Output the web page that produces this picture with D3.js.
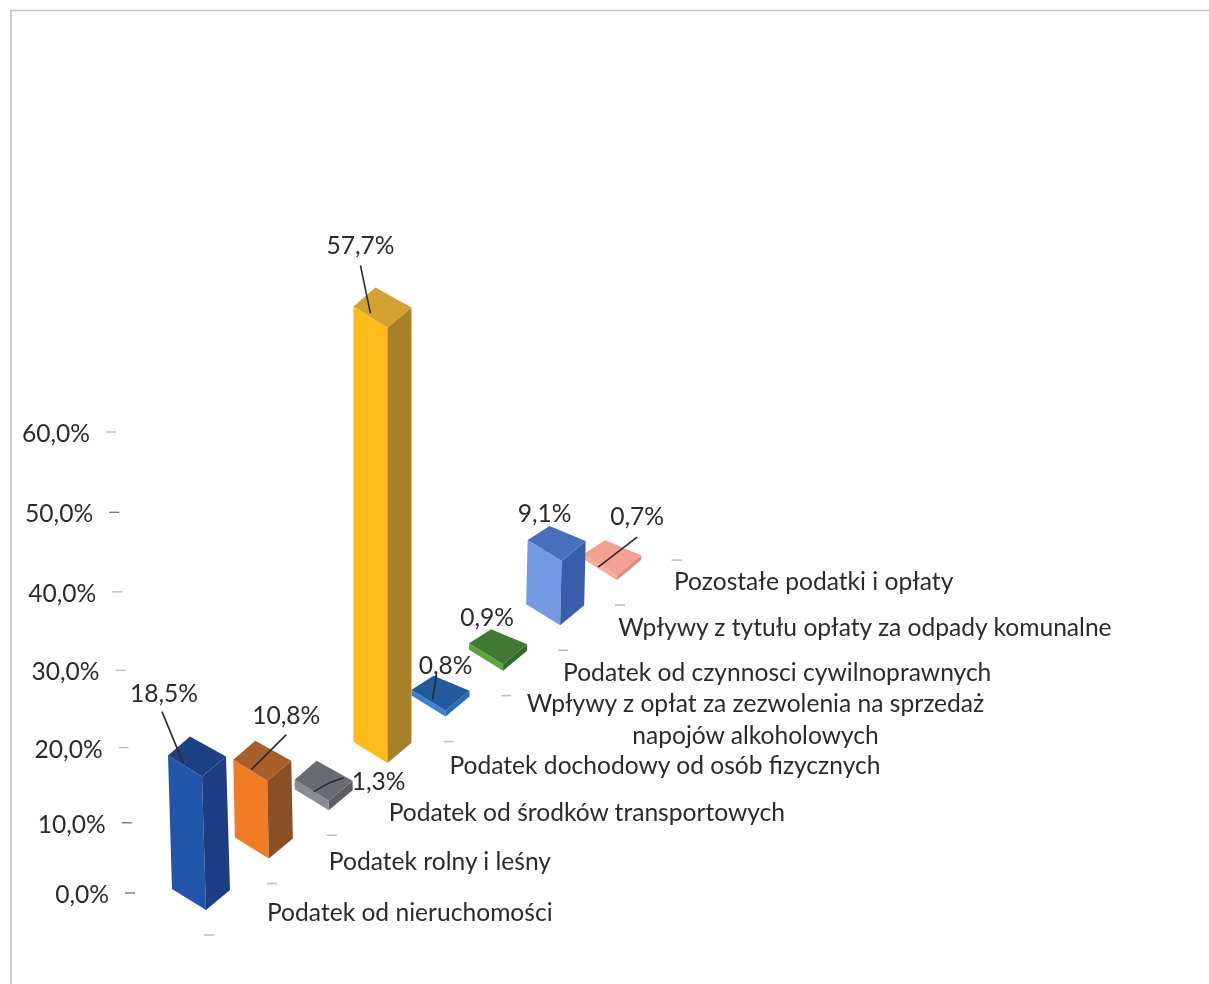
<!DOCTYPE html>
<html><head><meta charset="utf-8">
<script src="https://cdnjs.cloudflare.com/ajax/libs/d3/7.8.5/d3.min.js"></script>
<style>html,body{margin:0;padding:0;background:#fff}svg{display:block}text{font-family:Lato,"Open Sans",sans-serif;fill:#2c2c2e}</style>
</head><body><svg id="c" width="1209" height="984"></svg>
<script>
const categories = [
  ["Podatek od nieruchomości"],
  ["Podatek rolny i leśny"],
  ["Podatek od środków transportowych"],
  ["Podatek dochodowy od osób fizycznych"],
  ["Wpływy z opłat za zezwolenia na sprzedaż","napojów alkoholowych"],
  ["Podatek od czynnosci cywilnoprawnych"],
  ["Wpływy z tytułu opłaty za odpady komunalne"],
  ["Pozostałe podatki i opłaty"]
];
const values = [18.5,10.8,1.3,57.7,0.8,0.9,9.1,0.7];
const valueLabels = ["18,5%","10,8%","1,3%","57,7%","0,8%","0,9%","9,1%","0,7%"];
const axisValues = [0,10,20,30,40,50,60];
const axisLabels = ["0,0%","10,0%","20,0%","30,0%","40,0%","50,0%","60,0%"];
const leftColors  = ["#2456ab","#f07b25","#8b8c93","#fdbc1c","#3a80d2","#5ca343","#7499e2","#f6ab9b"];
const rightColors = ["#1c3e83","#8b4f25","#5b5b63","#a9802a","#2a69b8","#2f6a2a","#3a5ba9","#e28a7a"];
const topColors   = ["#1e4182","#a95e2a","#6b6b73","#d3a030","#245a9e","#3f7a32","#4a70bc","#f1a293"];

// layout
const catX = d3.scalePow().exponent(0.965).domain([0,7]).range([206,617]);
const catY = d3.scalePow().exponent(0.955).domain([0,7]).range([910,580]);
const pxPerUnit = d3.scaleLinear().domain([0,60]).range([0,453]);
const depth = d3.scaleLinear().domain([0,1,3,7]).range([0.955,0.955,1,0.91]);
const lean  = d3.scaleLinear().domain([0,3,7]).range([-0.03,0,0.03]);
const axisY = d3.scalePow().exponent(1.05).domain([0,60]).range([894,433]);
const axisX = d3.scaleLinear().domain([0,60]).range([109,90]);
const backDepth = d3.scaleLinear().domain([0,3,4,7]).range([40,40,35,35]);
const foot = {left:[-34,-21], right:[24,-20], backX:-12};
const labelOff = [[-33,-64],[24,-46],[55,0],[-22,-62],[5,-26],[-11,-27],[-12,-28],[25,-39]];
const leaders = [
  [[-35,-45],[-14,6]],
  [[24,-26],[-11,9]],
  [[-10,11],[6,2],[20,-3]],
  [[-22,-42],[-12,6]],
  [[-4,-16],[-8,9]],
  null,null,
  [[25,-18],[-14,12]]
];
const labelDx = [61,60,60,62,0,60,58,57];
const labelDy = [-13,-13,-13,-13,-15,-14,-13,-14];

const svg = d3.select("#c");
const defs = svg.append("defs");
defs.append("filter").attr("id","scan").attr("x","-5%").attr("y","-5%").attr("width","110%").attr("height","110%")
  .append("feGaussianBlur").attr("stdDeviation",0.6);
const root = svg.append("g").attr("filter","url(#scan)");

// frame
const frame = root.append("g").attr("stroke","#c4c4c4").attr("stroke-width",1.6).attr("fill","none");
frame.append("path").attr("d","M11,984V10.5H1209");

// value axis
const axisG = root.append("g");
axisG.selectAll("text").data(axisValues).join("text")
  .attr("x",d=>axisX(d)).attr("y",d=>axisY(d)+9)
  .attr("text-anchor","end").attr("font-size",24.6)
  .text((d,i)=>axisLabels[i]);
axisG.selectAll("line").data(axisValues).join("line")
  .attr("x1",d=>axisX(d)+16).attr("x2",d=>axisX(d)+26)
  .attr("y1",d=>axisY(d)-1).attr("y2",d=>axisY(d)-1)
  .attr("stroke",d=>d<=10||d==50?"#777":"#bbb").attr("stroke-width",1.4);

// category ticks
root.append("g").selectAll("line").data(d3.range(9).filter(d=>d!==3)).join("line")
  .attr("x1",d=>catX(d)-2).attr("x2",d=>catX(d)+8)
  .attr("y1",d=>catY(d)+25).attr("y2",d=>catY(d)+25)
  .attr("stroke","#c0c0c0").attr("stroke-width",1.6);

// bars, far to near
const H = i=>pxPerUnit(values[i])*depth(i);
const pts = a=>a.map(p=>p.join(",")).join(" ");
const bars = root.append("g").selectAll("g").data(d3.range(8).reverse()).join("g");
bars.each(function(i){
  const g=d3.select(this), x=catX(i), y=catY(i), h=H(i), tx=x+lean(i)*h, ty=y-h;
  const bl=[x+foot.left[0],y+foot.left[1]], br=[x+foot.right[0],y+foot.right[1]];
  const tl=[tx+foot.left[0],ty+foot.left[1]], tr=[tx+foot.right[0],ty+foot.right[1]], tb=[tx+foot.backX,ty-backDepth(i)];
  g.append("polygon").attr("points",pts([bl,[x,y],[tx,ty],tl])).attr("fill",leftColors[i]);
  g.append("polygon").attr("points",pts([[x,y],br,tr,[tx,ty]])).attr("fill",rightColors[i]);
  g.append("polygon").attr("points",pts([tl,[tx,ty],tr,tb])).attr("fill",topColors[i]);
});

// leader lines and data labels
const tc = i=>{const h=H(i);return [catX(i)+lean(i)*h-5,catY(i)-h-20];};
root.append("g").selectAll("path").data(d3.range(8).filter(i=>leaders[i])).join("path")
  .attr("fill","none").attr("stroke","#2a2a2a").attr("stroke-width",1.6)
  .attr("d",i=>{const c=tc(i);return d3.line()(leaders[i].map(p=>[c[0]+p[0],c[1]+p[1]]));});
root.append("g").selectAll("text").data(d3.range(8)).join("text")
  .attr("text-anchor","middle").attr("font-size",24.6)
  .attr("x",i=>tc(i)[0]+labelOff[i][0]).attr("y",i=>tc(i)[1]+labelOff[i][1]+9)
  .text(i=>valueLabels[i]);

// category labels
const cl = root.append("g").selectAll("text").data(d3.range(8)).join("text")
  .attr("font-size",24.6)
  .attr("text-anchor",i=>categories[i].length>1?"middle":"start")
  .attr("x",i=>categories[i].length>1?catX(i)+310:catX(i)+labelDx[i])
  .attr("y",i=>catY(i)+labelDy[i]+(categories[i].length>1?-14:0)+24);
cl.each(function(i){
  const t=d3.select(this), x=t.attr("x");
  categories[i].forEach((s,k)=>t.append("tspan").attr("x",x).attr("dy",k?32:0).text(s));
});
</script></body></html>
